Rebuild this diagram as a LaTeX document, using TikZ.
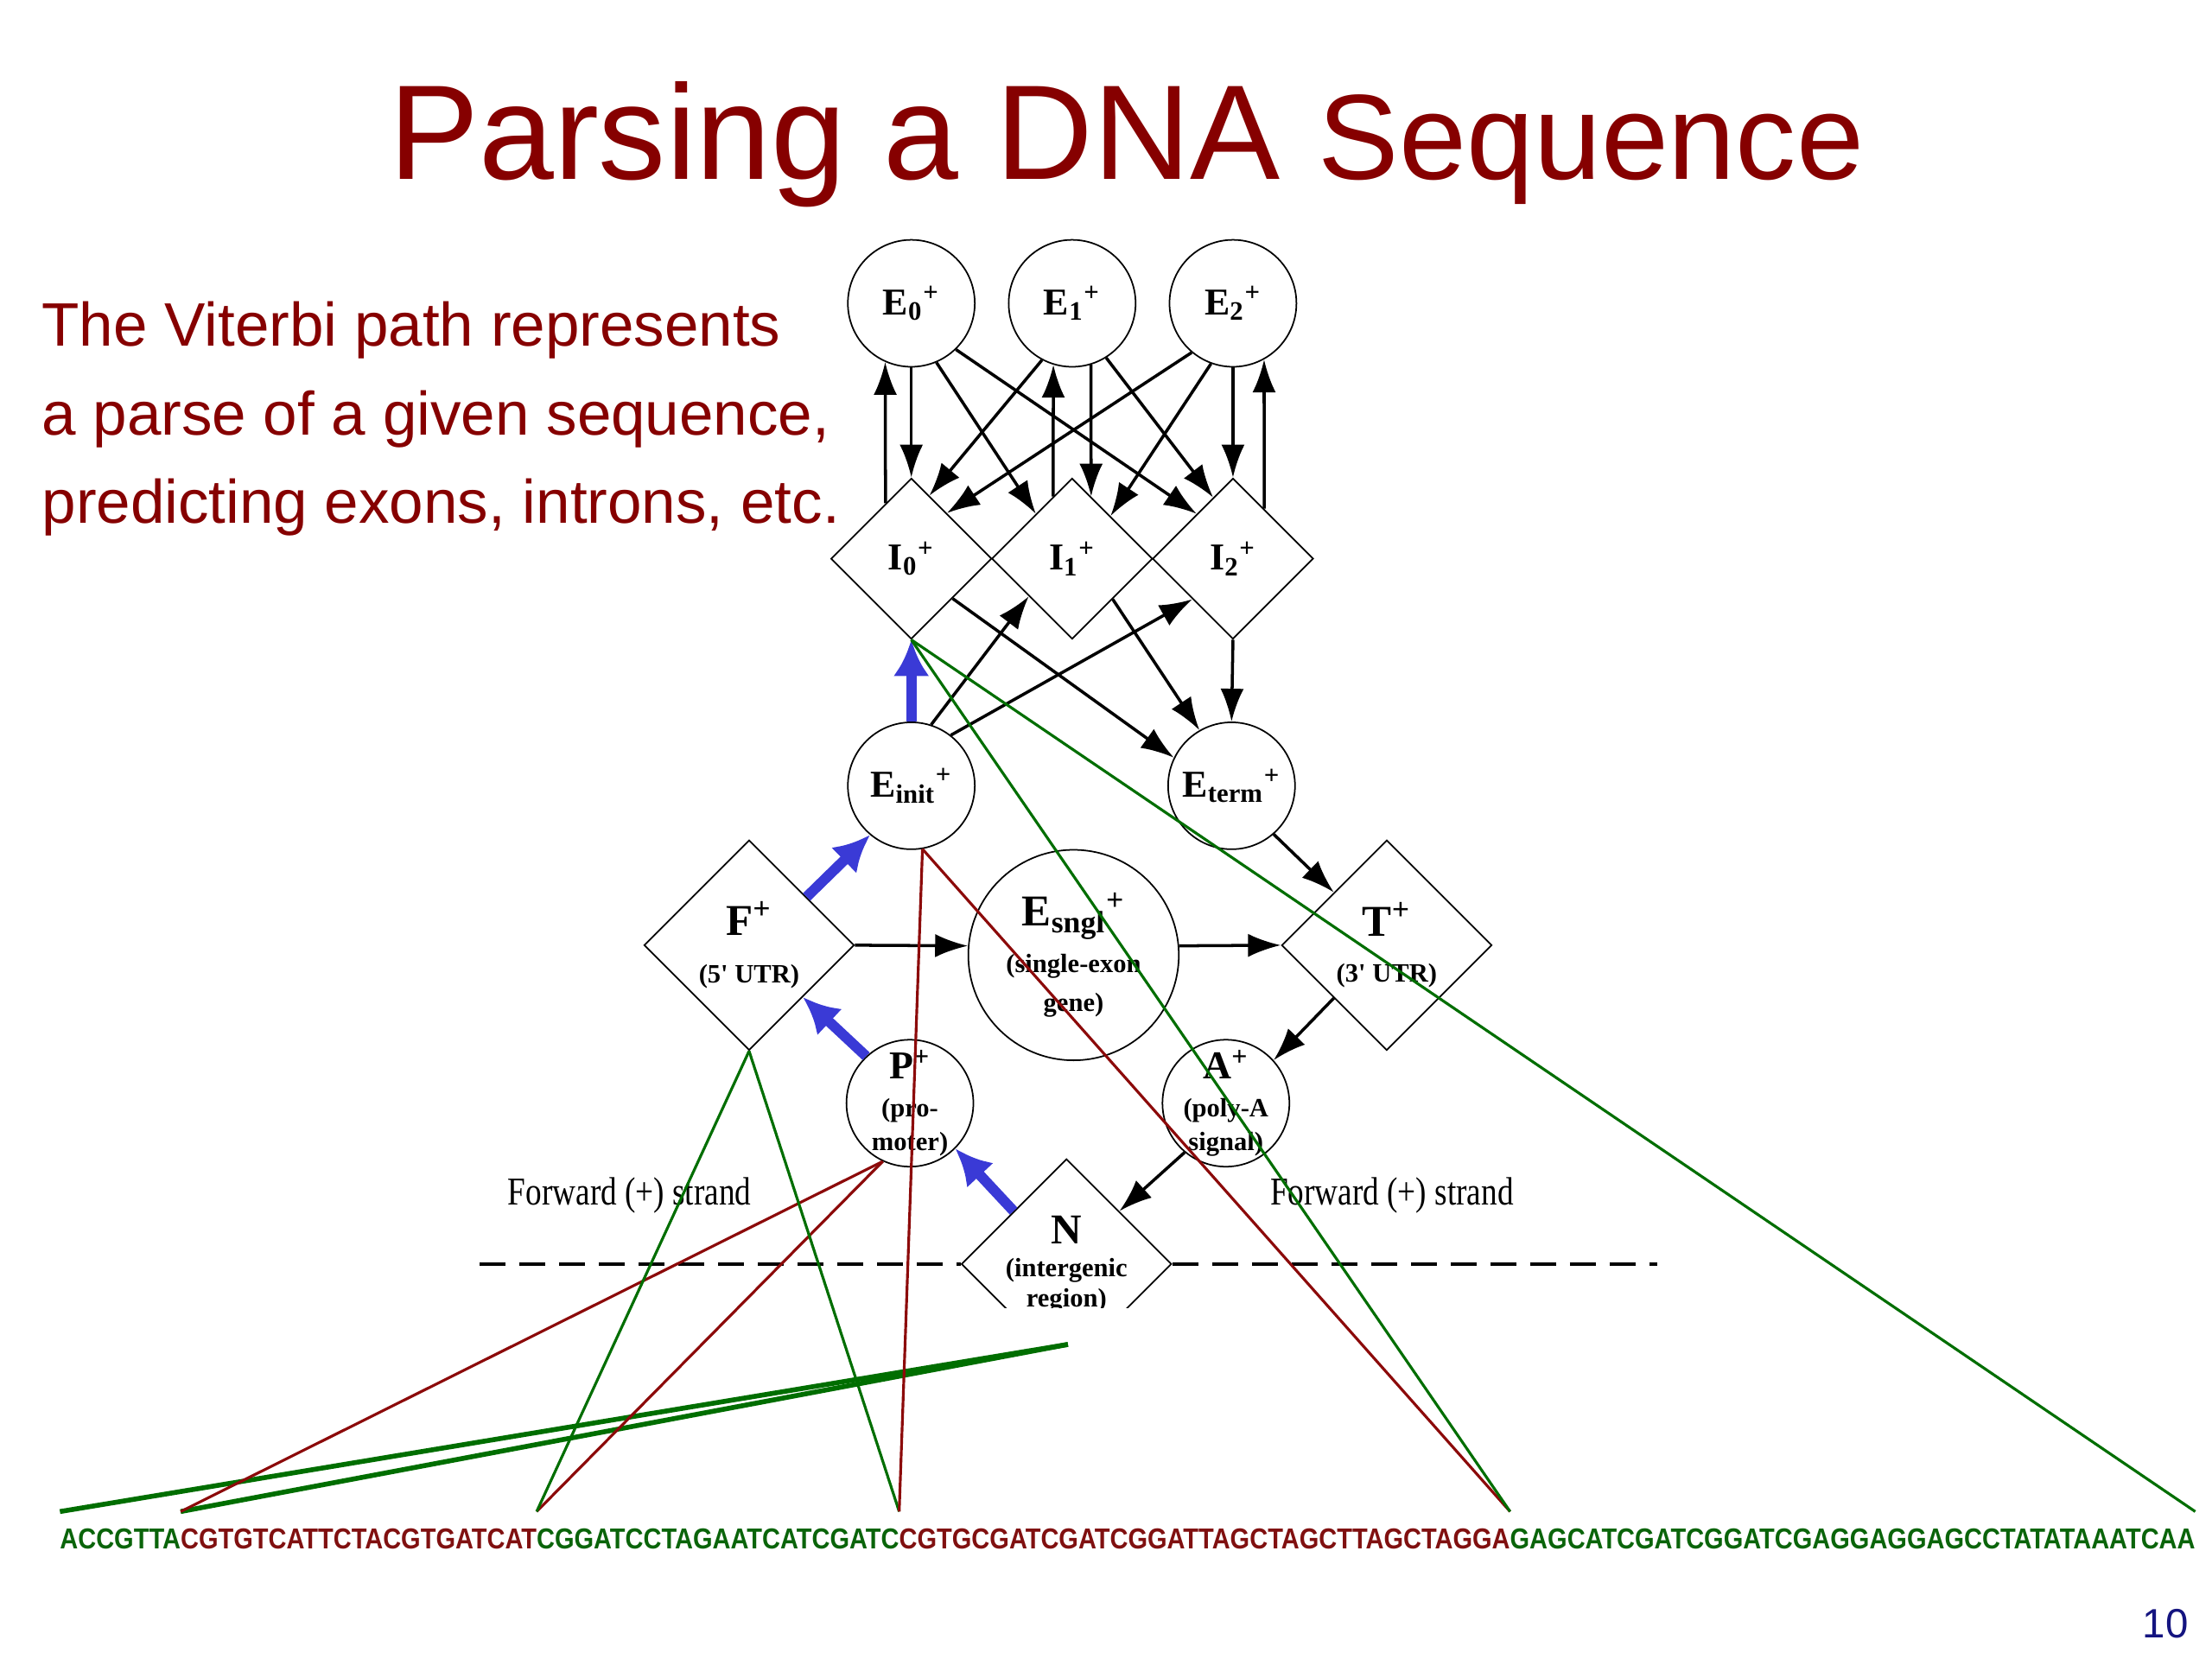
\documentclass[tikz,border=0pt]{standalone}
\usepackage{fontspec}
\setmainfont{Liberation Sans}
\newfontfamily\statefont{Liberation Serif}
\usetikzlibrary{arrows.meta,positioning,shapes.geometric}
\definecolor{slidered}{RGB}{134,0,0}
\definecolor{pathblue}{RGB}{58,58,214}
\definecolor{mapgreen}{RGB}{0,110,0}
\definecolor{mapred}{RGB}{140,10,10}
\definecolor{seqgreen}{RGB}{10,100,10}
\definecolor{seqred}{RGB}{128,16,16}
\definecolor{pagenum}{RGB}{20,20,128}
\newcommand{\stname}[2]{#1\textsubscript{#2}\textsuperscript{+}}
\newcommand{\sq}[1]{\scalebox{0.869}[1]{#1}}
\newcommand{\Esz}{\fontsize{12.5}{14}\selectfont}
\newcommand{\Psz}{\fontsize{13}{14}\selectfont}
\newcommand{\Fsz}{\fontsize{14.5}{16}\selectfont}
\begin{document}
\begin{tikzpicture}[x=0.016327cm, y=-0.016327cm,
  st/.style={draw, line width=0.5pt, inner sep=-1.5mm, align=center,
    font=\statefont\bfseries\fontsize{8.7}{12}\selectfont},
  ecirc/.style={st, circle, minimum size=1.469cm},
  idiam/.style={st, diamond, minimum size=1.861cm},
  bigdiam/.style={st, diamond, minimum size=2.433cm},
  arr/.style={-{Latex[length=3.8mm,width=2.7mm]}, line width=1pt},
  bluearr/.style={-{Latex[length=4.2mm,width=4.2mm]}, line width=3.4pt, pathblue},
  mapg/.style={mapgreen, line width=0.9pt},
  mapr/.style={mapred, line width=0.9pt},
  seq/.style={inner sep=0pt, outer xsep=0pt, outer ysep=2mm,
    font=\bfseries\fontsize{9.5}{9.5}\selectfont}]
\fill[white] (0,0) rectangle (1568,1176);
\useasboundingbox (0,0) rectangle (1568,1176);

% title and text
\node[anchor=base, inner sep=0, text=slidered] (title) at (798.5,127)
  {\fontsize{44.4}{44}\selectfont Parsing a DNA \fontsize{39.9}{40}\selectfont Sequence};
\node[anchor=north west, align=left, inner sep=0, text=slidered,
  font=\fontsize{20.2}{29.1}\selectfont] (viterbi) at (29.3,213.5)
  {The Viterbi path represents\\a parse of a given sequence,\\predicting exons, introns, etc.};
\node[anchor=base east, inner sep=0, text=pagenum, font=\fontsize{13.5}{14}\selectfont]
  (pageno) at (1551.6,1160.7) {10};

% states
\node[ecirc] (E0) at (646,215) {\Esz\stname{E}{0}};
\node[ecirc] (E1) at (760,215) {\Esz\stname{E}{1}};
\node[ecirc] (E2) at (874,215) {\Esz\stname{E}{2}};
\node[idiam] (I0) at (646,396) {\Esz\stname{I}{0}};
\node[idiam] (I1) at (760,396) {\Esz\stname{I}{1}};
\node[idiam] (I2) at (874,396) {\Esz\stname{I}{2}};
\node[ecirc] (Einit) at (646,557) {\Esz\stname{E}{init}};
\node[ecirc] (Eterm) at (873,557) {\Esz\stname{E}{term}};
\node[bigdiam] (F) at (531,670) {{\Fsz F\textsuperscript{+}}\\[3.8pt](5' UTR)};
\node[st, circle, minimum size=2.436cm] (Esngl) at (761,677)
  {{\Fsz\stname{E}{sngl}}\\[3.3pt](single-exon\\[1pt]gene)};
\node[bigdiam] (T) at (983,670) {{\Fsz T\textsuperscript{+}}\\[3.3pt](3' UTR)};
\node[ecirc] (P) at (645,782) {{\Psz P\textsuperscript{+}}\\[0.5pt](pro-\\[-0.9pt]moter)};
\node[ecirc] (A) at (869,782) {{\Psz A\textsuperscript{+}}\\[0.5pt](poly-A\\[-0.9pt]signal)};
\begin{scope}
\clip (0,0) rectangle (1568,926.7);
\node[bigdiam] (N) at (756,896) {{\fontsize{14}{14}\selectfont N}\\[-1.1pt](intergenic\\[-2.1pt]region)};
\end{scope}

% exon <-> intron transitions
\draw[arr] (E0.south) -- (I0.north);
\draw[arr] (I0.115) -- (E0.246);
\draw[arr] (I1.107) -- (E1.253);
\draw[arr] (E1.287) -- (I1.73);
\draw[arr] (E2.south) -- (I2.north);
\draw[arr] (I2.58) -- (E2.299);
\draw[arr] (E0.293) -- (I1.129);
\draw[arr] (E0.314) -- (I2.129);
\draw[arr] (E1.242) -- (I0.74);
\draw[arr] (E1.302) -- (I2.108);
\draw[arr] (E2.230) -- (I0.52);
\draw[arr] (E2.250) -- (I1.48);
\draw[arr] (Einit.72) -- (I1.221);
\draw[arr] (Einit.52) -- (I2.225);
\draw[arr] (I0.316) -- (Eterm.154);
\draw[arr] (I1.315) -- (Eterm.120);
\draw[arr] (I2.south) -- (Eterm.north);
\draw[arr] (Eterm.311) -- (T.north west);
\draw[arr] (F.east) -- (Esngl.175);
\draw[arr] (Esngl.5) -- (T.west);
\draw[arr] (T.south west) -- (A.42);
\draw[arr] (A.230) -- (N.north east);

% viterbi path
\draw[bluearr] (Einit.north) -- (I0.south);
\draw[bluearr] (F.40) -- (Einit.230);
\draw[bluearr] (P.133) -- (F.316);
\draw[bluearr] (N.north west) -- (P.315);

% strand
\coordinate (dashL) at (340,896);
\coordinate (dashR) at (1175,896);
\draw[line width=1pt, dash pattern=on 3mm off 1.6mm] (dashL) -- (N.west) (N.east) -- (dashR);
\node[anchor=base east, inner sep=0, font=\statefont\fontsize{13}{13}\selectfont]
  (fwdL) at (533,854) {\scalebox{0.815}[1]{Forward (+) strand}};
\node[anchor=base west, inner sep=0, font=\statefont\fontsize{13}{13}\selectfont]
  (fwdR) at (900,854) {\scalebox{0.815}[1]{Forward (+) strand}};

% sequence
\node[seq, anchor=base west, text=seqgreen] (seqN) at (42.5,1098) {\sq{ACCGTTA}};
\node[seq, base right=0pt of seqN, text=seqred] (seqP) {\sq{CGTGTCATTCTACGTGATCAT}};
\node[seq, base right=0pt of seqP, text=seqgreen] (seqF) {\sq{CGGATCCTAGAATCATCGATC}};
\node[seq, base right=0pt of seqF, text=seqred] (seqEi) {\sq{CGTGCGATCGATCGGATTAGCTAGCTTAGCTAGGA}};
\node[seq, base right=0pt of seqEi, text=seqgreen] (seqI) {\sq{GAGCATCGATCGGATCGAGGAGGAGCCTATATAAATCAA}};

% parse
\coordinate (Ntail) at (757,953);
\draw[mapg, line width=1.6pt] (seqN.north west) -- (Ntail);
\draw[mapg, line width=1.6pt] (seqP.north west) -- (Ntail);
\draw[mapr] (seqP.north west) -- (P.245);
\draw[mapr] (seqF.north west) -- (P.245);
\draw[mapg] (seqF.north west) -- (F.south);
\draw[mapg] (seqEi.north west) -- (F.south);
\draw[mapr] (seqEi.north west) -- (Einit.280);
\draw[mapr] (seqI.north west) -- (Einit.280);
\draw[mapg] (seqI.north west) -- (I0.south);
\draw[mapg] (seqI.north east) -- (I0.south);
\end{tikzpicture}
\end{document}
